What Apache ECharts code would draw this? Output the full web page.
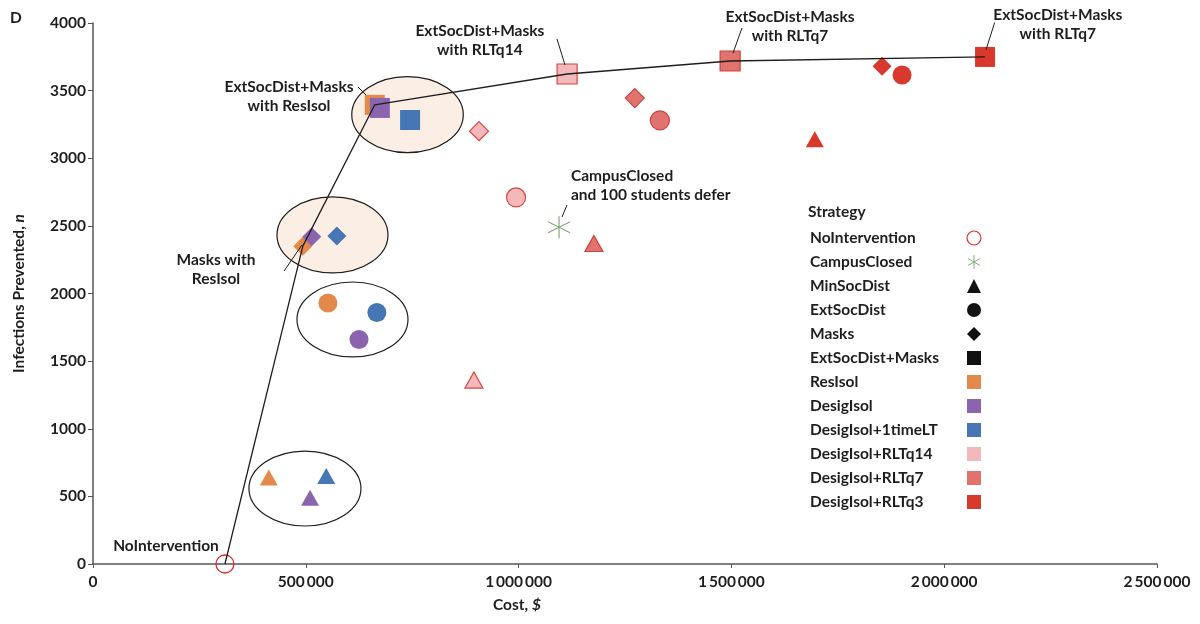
<!DOCTYPE html>
<html>
<head>
<meta charset="utf-8">
<script src="https://cdn.jsdelivr.net/npm/echarts@6/dist/echarts.min.js"></script>
<style>
  html, body { margin: 0; background: #fff; }
  #chart { width: 1200px; height: 624px; }
</style>
</head>
<body>
<div id="chart"></div>
<script>
const FONT = 'Lato, "Open Sans", sans-serif'
const INK = '#1e1e1e'

// colour groups, same order in every shape array below
const groups = ['ResIsol', 'DesigIsol', 'DesigIsol+1timeLT', 'DesigIsol+RLTq14', 'DesigIsol+RLTq7', 'DesigIsol+RLTq3']
const groupColors = ['#e3894b', '#8a64ad', '#4676b3', '#f3b8bb', '#e2726d', '#d8392c']
const groupBorders = [null, null, null, '#d8473f', '#c9443e', null]

const noIntervention = [310000, 0]
const campusClosed = [1095000, 2490]

const minSocDistCost = [413000, 510000, 548000, 895000, 1177000, 1696000]
const minSocDistPrevented = [640, 490, 650, 1360, 2370, 3140]
const extSocDistCost = [552000, 625000, 667000, 994000, 1332000, 1901000]
const extSocDistPrevented = [1930, 1660, 1860, 2710, 3280, 3615]
const masksCost = [493000, 514000, 573000, 907000, 1273000, 1854000]
const masksPrevented = [2350, 2420, 2425, 3200, 3445, 3680]
const extMasksCost = [662000, 674000, 745000, 1114000, 1497000, 2096000]
const extMasksPrevented = [3395, 3372, 3283, 3623, 3719, 3749]

// annotations
const labelTexts = [
  'ExtSocDist+Masks\nwith ResIsol',
  'ExtSocDist+Masks\nwith RLTq14',
  'ExtSocDist+Masks\nwith RLTq7',
  'ExtSocDist+Masks\nwith RLTq7',
  'CampusClosed\nand 100 students defer',
  'Masks with\nResIsol',
  'NoIntervention'
]
const labelCost = [460500, 909000, 1637700, 2267000, 1123000, 289000, 171500]
const labelPrevented = [3460, 3874, 3975, 3990, 2802, 2181, 133]
const labelAlign = ['center', 'center', 'center', 'center', 'left', 'center', 'center']

// leader lines: [cost1, prevented1, cost2, prevented2]
const leaderLines = [
  [622600, 3527, 641400, 3468],
  [1090200, 3882, 1109000, 3690],
  [1524900, 3963, 1503800, 3778],
  [2119000, 4008, 2098000, 3800],
  [1113700, 2654, 1102000, 2566],
  [448800, 2166, 491000, 2359]
]

// cluster ellipses: [centre cost, centre prevented, half width, half height, filled]
const ellipses = [
  [739000, 3322, 131000, 281, 1],
  [562700, 2433, 130400, 281, 1],
  [609700, 1808, 130400, 277, 0],
  [498000, 558, 131600, 277, 0]
]

const frontier = [
  noIntervention,
  [masksCost[0], masksPrevented[0]],
  [extMasksCost[0], extMasksPrevented[0]],
  [extMasksCost[3], extMasksPrevented[3]],
  [extMasksCost[4], extMasksPrevented[4]],
  [extMasksCost[5], extMasksPrevented[5]]
]

const ASTERISK = 'path://M0,-10L0,10M-8.66,-5L8.66,5M-8.66,5L8.66,-5'

function shapeSeries(name, symbol, size, costs, prevented) {
  return {
    type: 'scatter', name, symbol, symbolSize: size, z: 3, silent: true,
    itemStyle: { color: '#111', opacity: 1 },
    data: costs.map((c, i) => ({
      value: [c, prevented[i]],
      itemStyle: {
        color: groupColors[i],
        borderColor: groupBorders[i] || groupColors[i],
        borderWidth: groupBorders[i] ? 1.2 : 0,
        opacity: 1
      }
    }))
  }
}

const txt = { fontFamily: FONT, fontWeight: 'bold', fontSize: 15.5, color: INK }

const chart = echarts.init(document.getElementById('chart'))
chart.setOption({
  animation: false,
  title: [
    { text: 'D', left: 10, top: 10, padding: 0, textStyle: txt },
    { text: 'Strategy', left: 808, top: 204, padding: 0, textStyle: txt }
  ],
  grid: { left: 93, right: 43, top: 23, bottom: 60 },
  xAxis: {
    type: 'value', min: 0, max: 2500000, interval: 500000,
    name: 'Cost, {i|$}', nameLocation: 'middle', nameGap: 33,
    nameTextStyle: { ...txt, padding: [0, 216, 0, 0], rich: { i: { ...txt, fontStyle: 'italic' } } },
    axisLine: { lineStyle: { color: '#555', width: 1.5 } },
    axisTick: { length: 4, lineStyle: { color: '#555' } },
    axisLabel: { ...txt, margin: 10, formatter: v => String(v).replace(/\B(?=(\d{3})+(?!\d))/g, '\u2009') },
    splitLine: { show: false }
  },
  yAxis: {
    type: 'value', min: 0, max: 4000, interval: 500,
    name: 'Infections Prevented, {i|n}', nameLocation: 'middle', nameGap: 66,
    nameTextStyle: { ...txt, rich: { i: { ...txt, fontStyle: 'italic' } } },
    axisLine: { show: true, lineStyle: { color: '#555', width: 1.5 } },
    axisTick: { show: true, length: 5, lineStyle: { color: '#555' } },
    axisLabel: { ...txt, margin: 7, formatter: v => String(v) },
    splitLine: { show: false }
  },
  legend: {
    orient: 'vertical', left: 805, top: 225, align: 'right',
    itemWidth: 14, itemHeight: 14, itemGap: 8, selectedMode: false,
    itemStyle: { opacity: 1 },
    formatter: name => '{t|' + name + '}',
    textStyle: { rich: { t: { ...txt, width: 152, align: 'left', lineHeight: 15 } } },
    data: [
      { name: 'NoIntervention', icon: 'circle', itemStyle: { color: '#fff', borderColor: '#d9302a', borderWidth: 1.2, opacity: 1 } },
      { name: 'CampusClosed', icon: ASTERISK, itemStyle: { color: '#86a97e', borderColor: '#86a97e', borderWidth: 1, opacity: 1 } },
      { name: 'MinSocDist', icon: 'triangle', itemStyle: { color: '#111', borderWidth: 0, opacity: 1 } },
      { name: 'ExtSocDist', icon: 'circle', itemStyle: { color: '#111', borderWidth: 0, opacity: 1 } },
      { name: 'Masks', icon: 'diamond', itemStyle: { color: '#111', borderWidth: 0, opacity: 1 } },
      { name: 'ExtSocDist+Masks', icon: 'rect', itemStyle: { color: '#111', borderWidth: 0, opacity: 1 } },
      ...groups.map((g, i) => ({ name: g, icon: 'rect', itemStyle: { color: groupColors[i], borderWidth: 0, opacity: 1 } }))
    ]
  },
  series: [
    {
      type: 'custom', name: 'clusters', z: 1, silent: true, clip: false,
      encode: { x: 0, y: 1 },
      data: ellipses,
      renderItem: (params, api) => {
        const c = api.coord([api.value(0), api.value(1)])
        const s = api.size([api.value(2), api.value(3)])
        return {
          type: 'ellipse',
          shape: { cx: c[0], cy: c[1], rx: s[0], ry: s[1] },
          style: { fill: api.value(4) ? '#fbeee4' : 'none', stroke: INK, lineWidth: 1.2 }
        }
      }
    },
    shapeSeries('MinSocDist', 'triangle', [18, 16], minSocDistCost, minSocDistPrevented),
    shapeSeries('ExtSocDist', 'circle', 19, extSocDistCost, extSocDistPrevented),
    shapeSeries('Masks', 'diamond', 19, masksCost, masksPrevented),
    shapeSeries('ExtSocDist+Masks', 'rect', 20, extMasksCost, extMasksPrevented),
    {
      type: 'scatter', name: 'NoIntervention', symbol: 'circle', symbolSize: 18, z: 3, silent: true, clip: false,
      itemStyle: { color: 'rgba(255,255,255,0)', borderColor: '#d9302a', borderWidth: 1.3, opacity: 1 },
      data: [noIntervention]
    },
    {
      type: 'scatter', name: 'CampusClosed', symbol: ASTERISK, symbolSize: 22, z: 3, silent: true,
      itemStyle: { color: '#86a97e', borderColor: '#86a97e', borderWidth: 1.2, opacity: 1 },
      data: [campusClosed]
    },
    // empty series so the colour groups show in the legend
    ...groups.map((g, i) => ({ type: 'scatter', name: g, symbol: 'rect', itemStyle: { color: groupColors[i], opacity: 1 }, data: [] })),
    {
      type: 'line', name: 'frontier', z: 4, silent: true, symbol: 'none',
      lineStyle: { color: INK, width: 1.3 },
      data: frontier
    },
    {
      type: 'lines', name: 'leaders', coordinateSystem: 'cartesian2d', z: 4, silent: true,
      lineStyle: { color: INK, width: 1, opacity: 1 },
      data: leaderLines.map(l => ({ coords: [[l[0], l[1]], [l[2], l[3]]] }))
    },
    {
      type: 'scatter', name: 'labels', z: 5, silent: true, clip: false, symbolSize: 1,
      itemStyle: { color: 'rgba(0,0,0,0)', opacity: 1 },
      label: { show: true, position: 'inside', ...txt, lineHeight: 19 },
      data: labelTexts.map((t, i) => ({
        value: [labelCost[i], labelPrevented[i]],
        label: { formatter: t, align: labelAlign[i] }
      }))
    }
  ]
})
</script>
</body>
</html>
